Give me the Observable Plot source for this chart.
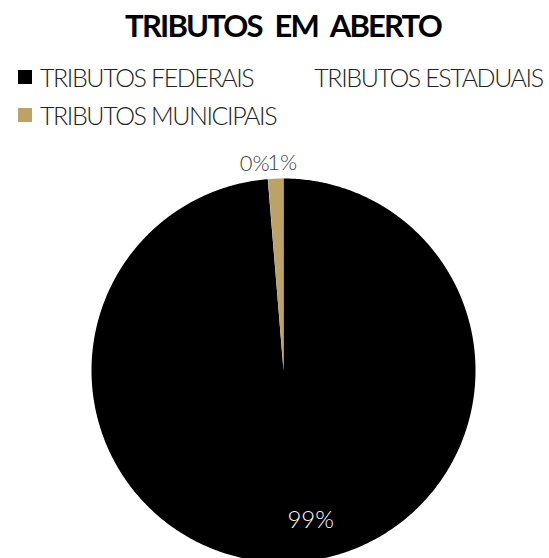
<!DOCTYPE html>
<html>
<head>
<meta charset="utf-8">
<script src="https://cdn.jsdelivr.net/npm/d3@7"></script>
<script src="https://cdn.jsdelivr.net/npm/@observablehq/plot@0.6"></script>
<style>
  html, body { margin: 0; padding: 0; background: #fff; }
  #wrap { position: relative; width: 549px; height: 558px; overflow: hidden; font-family: "Lato", "Noto Sans", sans-serif; }
  #title { position: absolute; left: 0; top: 7px; width: 566px; text-align: center; font-weight: 700; font-size: 31px; line-height: 36px; color: #000; letter-spacing: -1.8px; word-spacing: 7px; }
  #legend { position: absolute; left: 18px; top: 62px; width: 531px; display: flex; flex-wrap: wrap; column-gap: 39px; row-gap: 8px; }
  .item { display: flex; align-items: center; font-weight: 300; font-size: 25px; line-height: 30px; color: #222; white-space: nowrap; letter-spacing: -1.4px; }
  .sw { width: 14px; height: 14px; margin-right: 8px; flex: none; }
  #chart { position: absolute; left: 0; top: 140px; }
</style>
</head>
<body>
<div id="wrap">
  <div id="title">TRIBUTOS EM ABERTO</div>
  <div id="legend"></div>
  <div id="chart"></div>
</div>
<script>
// Data
const categories = ["TRIBUTOS FEDERAIS", "TRIBUTOS ESTADUAIS", "TRIBUTOS MUNICIPAIS"];
const values = [98.7, 0.02, 1.28];
const labels = ["99%", "0%", "1%"];
const colors = ["#000000", "#ffffff", "#bca267"];

// Legend
const legend = document.getElementById("legend");
categories.forEach((c, i) => {
  const it = document.createElement("div");
  it.className = "item";
  const sw = document.createElement("span");
  sw.className = "sw";
  sw.style.background = colors[i];
  const tx = document.createElement("span");
  tx.textContent = c;
  it.appendChild(sw); it.appendChild(tx);
  legend.appendChild(it);
});

// Pie geometry from data
const rows = categories.map((c, i) => ({name: c, value: values[i], label: labels[i]}));
const arcs = d3.pie().sort(null).value(d => d.value)(rows);
const pts = [];
arcs.forEach(a => {
  pts.push({name: a.data.name, x: 0, y: 0});
  const n = Math.max(2, Math.ceil((a.endAngle - a.startAngle) / 0.01));
  for (let k = 0; k <= n; k++) {
    const t = a.startAngle + (a.endAngle - a.startAngle) * k / n;
    pts.push({name: a.data.name, x: Math.sin(t), y: Math.cos(t)});
  }
});
const mid = a => (a.startAngle + a.endAngle) / 2;
const inside = arcs.filter(a => a.data.value > 50).map(a => ({label: a.data.label, x: 0.79 * Math.sin(mid(a)), y: 0.79 * Math.cos(mid(a))}));
const outer = arcs.filter(a => a.data.value <= 50).map(a => ({label: a.data.label, x: 1.08 * Math.sin(mid(a)), y: 1.08 * Math.cos(mid(a))}));

const cx = 283, cy = 230, r = 192;
const plot = Plot.plot({
  width: 549,
  height: 418,
  margin: 0,
  x: {domain: [-1, 1], range: [cx - r, cx + r], axis: null},
  y: {domain: [-1, 1], range: [cy + r, cy - r], axis: null},
  color: {domain: categories, range: colors},
  style: {background: "transparent", fontFamily: "Lato, 'Noto Sans', sans-serif"},
  marks: [
    Plot.line(pts, {x: "x", y: "y", z: "name", fill: "name", stroke: null, curve: "linear-closed"}),
    Plot.text(inside, {x: "x", y: "y", text: "label", fill: "#ffffff", fontSize: 24, fontWeight: 300, dx: 21, dy: -2}),
    Plot.text(outer.filter(d => d.label === "0%"), {x: "x", y: "y", text: "label", fill: "#404040", fontSize: 22, fontWeight: 300, dx: -12}),
    Plot.text(outer.filter(d => d.label !== "0%"), {x: "x", y: "y", text: "label", fill: "#404040", fontSize: 22, fontWeight: 300, dx: 7})
  ]
});
document.getElementById("chart").appendChild(plot);
</script>
</body>
</html>
